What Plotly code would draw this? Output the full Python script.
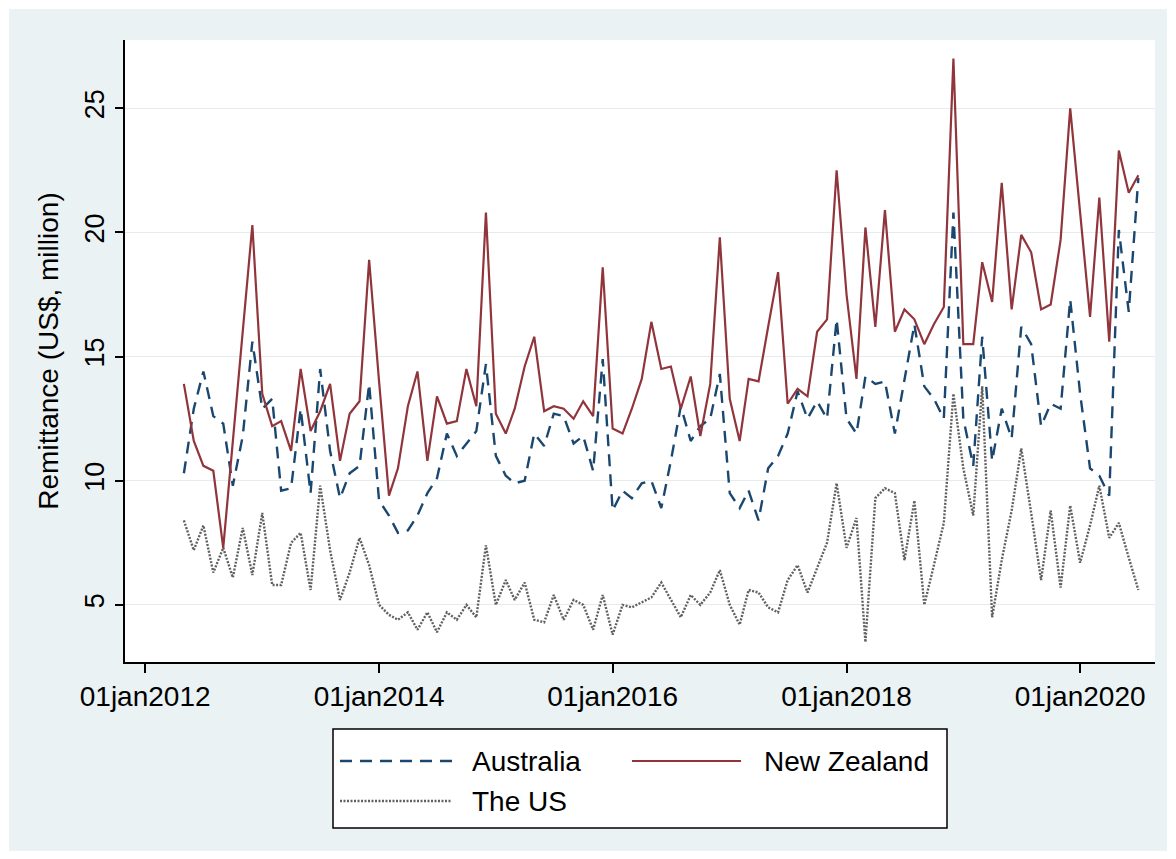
import pandas as pd
import plotly.graph_objects as go

# Monthly remittance inflows (US$ million), May 2012 - Jul 2020
months = pd.date_range("2012-05-01", periods=99, freq="MS")

australia = [
    10.3, 12.9, 14.4, 12.6, 12.3, 9.8, 11.8, 15.6,
    12.9, 13.3, 9.6, 9.7, 12.9, 9.5, 14.5, 11.2, 9.3, 10.3, 10.6, 13.9,
    9.2, 8.6, 7.9, 8.0, 8.6, 9.5, 10.1, 11.9, 11.0, 11.5, 12.0, 14.7,
    11.0, 10.2, 9.9, 10.0, 11.9, 11.4, 12.7, 12.6, 11.5, 11.8, 10.4, 14.9,
    8.8, 9.6, 9.3, 9.9, 10.0, 8.9, 10.8, 13.0, 11.6, 12.2, 12.5, 14.3,
    9.5, 8.9, 9.6, 8.4, 10.5, 11.0, 11.9, 13.6, 12.5, 13.2, 12.5, 16.5,
    12.5, 11.9, 14.2, 13.9, 14.0, 11.9, 14.0, 16.3, 13.8, 13.3, 12.5, 20.8,
    12.5, 10.6, 15.8, 10.8, 12.9, 11.7, 16.2, 15.5, 12.2, 13.1, 12.9, 17.3,
    13.5, 10.5, 10.2, 9.4, 20.1, 16.8, 22.2,
]

new_zealand = [
    13.9, 11.6, 10.6, 10.4, 7.3, 11.5, 15.8, 20.3,
    13.5, 12.2, 12.4, 11.2, 14.5, 12.0, 12.8, 13.9, 10.8, 12.7, 13.2, 18.9,
    14.0, 9.4, 10.5, 13.0, 14.4, 10.8, 13.4, 12.3, 12.4, 14.5, 13.0, 20.8,
    12.7, 11.9, 12.9, 14.6, 15.8, 12.8, 13.0, 12.9, 12.5, 13.2, 12.6, 18.6,
    12.1, 11.9, 12.9, 14.1, 16.4, 14.5, 14.6, 12.9, 14.2, 11.8, 13.9, 19.8,
    13.3, 11.6, 14.1, 14.0, 16.2, 18.4, 13.1, 13.7, 13.4, 16.0, 16.5, 22.5,
    17.5, 14.1, 20.2, 16.2, 20.9, 16.0, 16.9, 16.5, 15.5, 16.3, 17.0, 27.0,
    15.5, 15.5, 18.8, 17.2, 22.0, 16.9, 19.9, 19.2, 16.9, 17.1, 19.7, 25.0,
    20.8, 16.6, 21.4, 15.6, 23.3, 21.6, 22.3,
]

the_us = [
    8.4, 7.2, 8.2, 6.3, 7.3, 6.1, 8.1, 6.2,
    8.7, 5.8, 5.8, 7.5, 7.9, 5.6, 9.8, 7.2, 5.2, 6.3, 7.7, 6.6,
    5.0, 4.6, 4.4, 4.7, 4.0, 4.7, 3.9, 4.7, 4.4, 5.0, 4.5, 7.4,
    5.0, 6.0, 5.2, 5.9, 4.4, 4.3, 5.4, 4.4, 5.2, 5.0, 4.0, 5.4,
    3.8, 5.0, 4.9, 5.1, 5.3, 5.9, 5.2, 4.5, 5.4, 5.0, 5.5, 6.4,
    5.0, 4.2, 5.6, 5.5, 4.9, 4.7, 6.0, 6.6, 5.5, 6.5, 7.5, 9.9,
    7.3, 8.5, 3.5, 9.3, 9.7, 9.5, 6.8, 9.2, 5.0, 6.6, 8.3, 13.5,
    10.5, 8.6, 13.8, 4.5, 6.8, 8.8, 11.3, 8.7, 6.0, 8.8, 5.7, 9.0,
    6.7, 8.2, 9.8, 7.7, 8.3, 6.9, 5.6,
]

x_tick_dates = ["2012-01-01", "2014-01-01", "2016-01-01", "2018-01-01", "2020-01-01"]
x_tick_labels = ["01jan2012", "01jan2014", "01jan2016", "01jan2018", "01jan2020"]
y_ticks = [5, 10, 15, 20, 25]

FONT = "Liberation Sans, Arial, sans-serif"
NAVY = "#1a476f"
MAROON = "#90353b"
GREY = "#606060"
BG = "#eaf2f3"

AUS_DASH = "12px,8px"
US_DASH = "2px,1.5px"
US_WIDTH = 2.4

fig = go.Figure()
fig.add_trace(go.Scatter(x=months, y=australia, mode="lines", name="Australia",
                         line=dict(color=NAVY, width=2.4, dash=AUS_DASH)))
fig.add_trace(go.Scatter(x=months, y=new_zealand, mode="lines", name="New Zealand",
                         line=dict(color=MAROON, width=2.2)))
fig.add_trace(go.Scatter(x=months, y=the_us, mode="lines", name="The US",
                         line=dict(color=GREY, width=US_WIDTH, dash=US_DASH)))

# plot area geometry in pixels (for placing the legend box and frame)
L, R, T, B = 125, 21, 40, 197
W, H = 1176, 859
PW, PH = W - L - R, H - T - B


def px_x(px):
    return (px - L) / PW


def px_y(py):
    return (H - B - py) / PH


shapes = [
    # outer graph region
    dict(type="rect", xref="paper", yref="paper", layer="below",
         x0=px_x(9), x1=px_x(1167), y0=px_y(851), y1=px_y(9),
         fillcolor=BG, line=dict(width=0)),
    # plot region
    dict(type="rect", xref="paper", yref="paper", layer="below",
         x0=0, x1=1, y0=0, y1=1, fillcolor="white", line=dict(width=0)),
    # legend frame
    dict(type="rect", xref="paper", yref="paper", layer="above",
         x0=px_x(333), x1=px_x(947), y0=px_y(828), y1=px_y(729),
         fillcolor="white", line=dict(color="black", width=1.5)),
]

legend_rows = [
    ("Australia", NAVY, AUS_DASH, 2.4, 340, 452, 470, 761),
    ("New Zealand", MAROON, "solid", 2.2, 632, 741, 762, 761),
    ("The US", GREY, US_DASH, US_WIDTH, 340, 452, 470, 801),
]
annotations = []
for label, color, dash, width, lx0, lx1, tx, ty in legend_rows:
    shapes.append(dict(type="line", xref="paper", yref="paper", layer="above",
                       x0=px_x(lx0), x1=px_x(lx1), y0=px_y(ty), y1=px_y(ty),
                       line=dict(color=color, width=width, dash=dash)))
    annotations.append(dict(text=label, xref="paper", yref="paper",
                            x=px_x(tx), y=px_y(ty), xanchor="left", yanchor="middle",
                            showarrow=False, font=dict(family=FONT, size=28, color="black")))

fig.update_layout(
    width=W, height=H, autosize=False,
    margin=dict(l=L, r=R, t=T, b=B),
    paper_bgcolor="white", plot_bgcolor="white",
    showlegend=False,
    font=dict(family=FONT, color="black"),
    shapes=shapes, annotations=annotations,
)

fig.update_xaxes(
    range=["2011-10-30", "2020-08-22"],
    tickvals=x_tick_dates, ticktext=x_tick_labels,
    tickfont=dict(size=28, family=FONT, color="black"),
    showgrid=False, zeroline=False,
    showline=True, linecolor="black", linewidth=1.5,
    ticks="outside", ticklen=9, tickwidth=1.5, tickcolor="black",
)

fig.update_yaxes(
    range=[2.7, 27.75],
    tickvals=y_ticks,
    tickangle=-90,
    tickfont=dict(size=27, family=FONT, color="black"),
    showgrid=True, gridcolor="#e4eced", gridwidth=1.2,
    zeroline=False,
    showline=True, linecolor="black", linewidth=1.5,
    ticks="outside", ticklen=8, tickwidth=1.5, tickcolor="black",
    title=dict(text="Remittance (US$, million)",
               font=dict(size=28, family=FONT, color="black"), standoff=14),
)

fig.write_html("out.html")
